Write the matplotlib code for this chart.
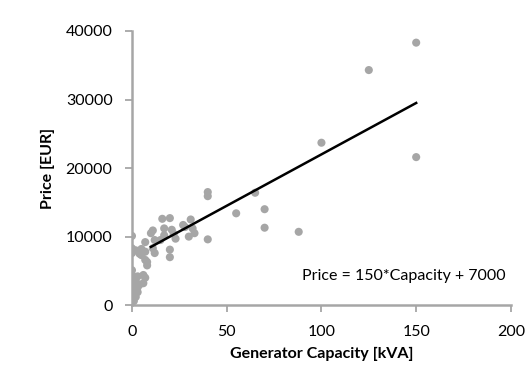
import matplotlib
matplotlib.use('Agg')
import matplotlib.pyplot as plt
import numpy as np

# generator capacity [kVA] and price [EUR]
capacity = [0, 0, 0, 0, 0, 0, 0, 0, 0, 0,
            1, 1, 1, 2, 2, 2, 2, 3, 3, 3,
            4, 4, 5, 5, 6, 6, 7, 7, 7, 7,
            8, 8, 10, 11, 11, 12, 12, 15, 16, 17, 17,
            20, 20, 20, 21, 22, 23, 27, 28, 30, 31, 32, 33,
            40, 40, 40, 55, 65, 70, 70, 88, 100, 125, 150, 150]
price = [10100, 8300, 7600, 5100, 4400, 3300, 2500, 1800, 1000, 500,
         2200, 1400, 600, 8000, 3500, 2800, 1200, 1900, 2600, 4200,
         7500, 3000, 8200, 7300, 4400, 3200, 6600, 7800, 4000, 9200,
         6300, 5800, 10500, 10900, 8300, 7600, 9500, 9500, 12600, 11200, 10200,
         12700, 8100, 7000, 11000, 10400, 9700, 11700, 11400, 10000, 12500, 11200, 10500,
         16500, 15900, 9600, 13400, 16400, 14000, 11300, 10700, 23700, 34300, 38300, 21600]

# fitted line: Price = 150*Capacity + 7000
slope = 150
intercept = 7000
fit_range = [10, 150]

plt.rcParams['font.family'] = ['Lato', 'DejaVu Sans']

fig = plt.figure(figsize=(5.3, 3.69), dpi=100)
ax = fig.add_axes([0.249, 0.173, 0.715, 0.743])

grey = '#a6a6a6'
ax.scatter(capacity, price, s=34, color=grey, edgecolors='none', zorder=2)

fx = np.array(fit_range)
ax.plot(fx, slope * fx + intercept, color='black', lw=1.8, zorder=3)

ax.set_xlim(0, 200)
ax.set_ylim(0, 40000)
ax.set_xticks([0, 50, 100, 150, 200])
ax.set_yticks([0, 10000, 20000, 30000, 40000])

for side in ['top', 'right']:
    ax.spines[side].set_visible(False)
for side in ['left', 'bottom']:
    ax.spines[side].set_color(grey)
    ax.spines[side].set_linewidth(1.8)
ax.tick_params(direction='out', length=5, width=1.3, color=grey,
               labelsize=11.5, labelcolor='black', pad=9)

ax.set_xlabel('Generator Capacity [kVA]', fontsize=11.5, fontweight='bold', labelpad=6)
ax.set_ylabel('Price [EUR]', fontsize=11.5, fontweight='bold', labelpad=8)

ax.text(0.985, 0.09, 'Price = 150*Capacity + 7000', transform=ax.transAxes,
        ha='right', va='baseline', fontsize=11.5)

fig.savefig('out.png', dpi=100)
